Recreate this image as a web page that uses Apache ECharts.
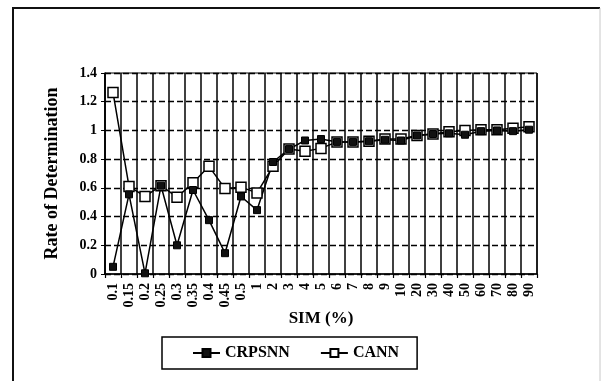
<!DOCTYPE html>
<html>
<head>
<meta charset="utf-8">
<script src="https://cdn.jsdelivr.net/npm/echarts@6/dist/echarts.min.js"></script>
<style>
  html, body { margin: 0; padding: 0; background: #fff; }
  #chart { width: 601px; height: 381px; }
</style>
</head>
<body>
<div id="chart"></div>
<script>
// x 轴类别
var categories = ['0.1', '0.15', '0.2', '0.25', '0.3', '0.35', '0.4', '0.45', '0.5',
  '1', '2', '3', '4', '5', '6', '7', '8', '9', '10',
  '20', '30', '40', '50', '60', '70', '80', '90']
var crpsnn = [0.05, 0.555, 0.005, 0.615, 0.2, 0.585, 0.375, 0.145, 0.54,
  0.445, 0.78, 0.87, 0.93, 0.94, 0.92, 0.92, 0.925, 0.935, 0.93,
  0.965, 0.975, 0.98, 0.97, 0.995, 1.0, 0.995, 1.005]
var cann = [1.265, 0.61, 0.54, 0.615, 0.535, 0.635, 0.75, 0.595, 0.605,
  0.565, 0.75, 0.87, 0.855, 0.875, 0.92, 0.92, 0.925, 0.94, 0.94,
  0.965, 0.975, 0.99, 1.0, 1.005, 1.005, 1.015, 1.025]
var yTicks = [0, 0.2, 0.4, 0.6, 0.8, 1, 1.2, 1.4]

var font = 'Liberation Serif'
var chart = echarts.init(document.getElementById('chart'))
var option = {
  backgroundColor: '#fff',
  animation: false,
  // 外框
  graphic: [
    { type: 'polyline', shape: { points: [[13, 381], [13, 8], [600, 8]] },
      style: { stroke: '#111', lineWidth: 2, fill: null } },
    { type: 'line', shape: { x1: 600, y1: 8, x2: 600, y2: 381 },
      style: { stroke: '#c8c8c8', lineWidth: 1 } }
  ],
  legend: {
    data: ['CRPSNN', 'CANN'],
    left: 162,
    top: 337,
    padding: [8, 18, 8, 30],
    itemGap: 30,
    itemWidth: 27,
    itemHeight: 10,
    borderColor: '#000',
    borderWidth: 1.5,
    textStyle: { fontFamily: font, fontWeight: 'bold', fontSize: 16, color: '#000' }
  },
  grid: {
    left: 105,
    right: 64,
    top: 73,
    bottom: 107,
    show: true,
    borderColor: '#000',
    borderWidth: 1
  },
  xAxis: {
    type: 'category',
    data: categories,
    name: 'SIM (%)',
    nameLocation: 'middle',
    nameGap: 36,
    nameMoveOverlap: false,
    nameTextStyle: { fontFamily: font, fontWeight: 'bold', fontSize: 17, color: '#000' },
    axisLine: { lineStyle: { color: '#000', width: 1.5 } },
    axisTick: { show: true, length: 4, lineStyle: { color: '#000', width: 1.2 } },
    axisLabel: {
      rotate: 90,
      margin: 9,
      interval: 0,
      fontFamily: font,
      fontWeight: 'bold',
      fontSize: 14,
      color: '#000'
    },
    splitLine: { show: true, lineStyle: { color: '#000', width: 1.5 } }
  },
  yAxis: {
    type: 'value',
    min: yTicks[0],
    max: yTicks[yTicks.length - 1],
    interval: 0.2,
    name: 'Rate of Determination',
    nameLocation: 'middle',
    nameGap: 44,
    nameTextStyle: { fontFamily: font, fontWeight: 'bold', fontSize: 18, color: '#000' },
    axisLine: { show: true, lineStyle: { color: '#000', width: 1.5 } },
    axisTick: { show: true, length: 4, lineStyle: { color: '#000' } },
    axisLabel: { fontFamily: font, fontWeight: 'bold', fontSize: 14, color: '#000', margin: 8 },
    splitLine: { show: true, lineStyle: { color: '#000', width: 1.3, type: [6, 3] } }
  },
  series: [
    {
      name: 'CANN',
      type: 'line',
      data: cann,
      symbol: 'rect',
      symbolSize: 10,
      lineStyle: { color: '#000', width: 1.5 },
      itemStyle: { color: '#fff', borderColor: '#000', borderWidth: 1.5 }
    },
    {
      name: 'CRPSNN',
      type: 'line',
      data: crpsnn,
      symbol: 'rect',
      symbolSize: 7,
      lineStyle: { color: '#000', width: 1.5 },
      itemStyle: { color: '#111', borderColor: '#000', borderWidth: 1 }
    }
  ]
}
chart.setOption(option)
</script>
</body>
</html>
